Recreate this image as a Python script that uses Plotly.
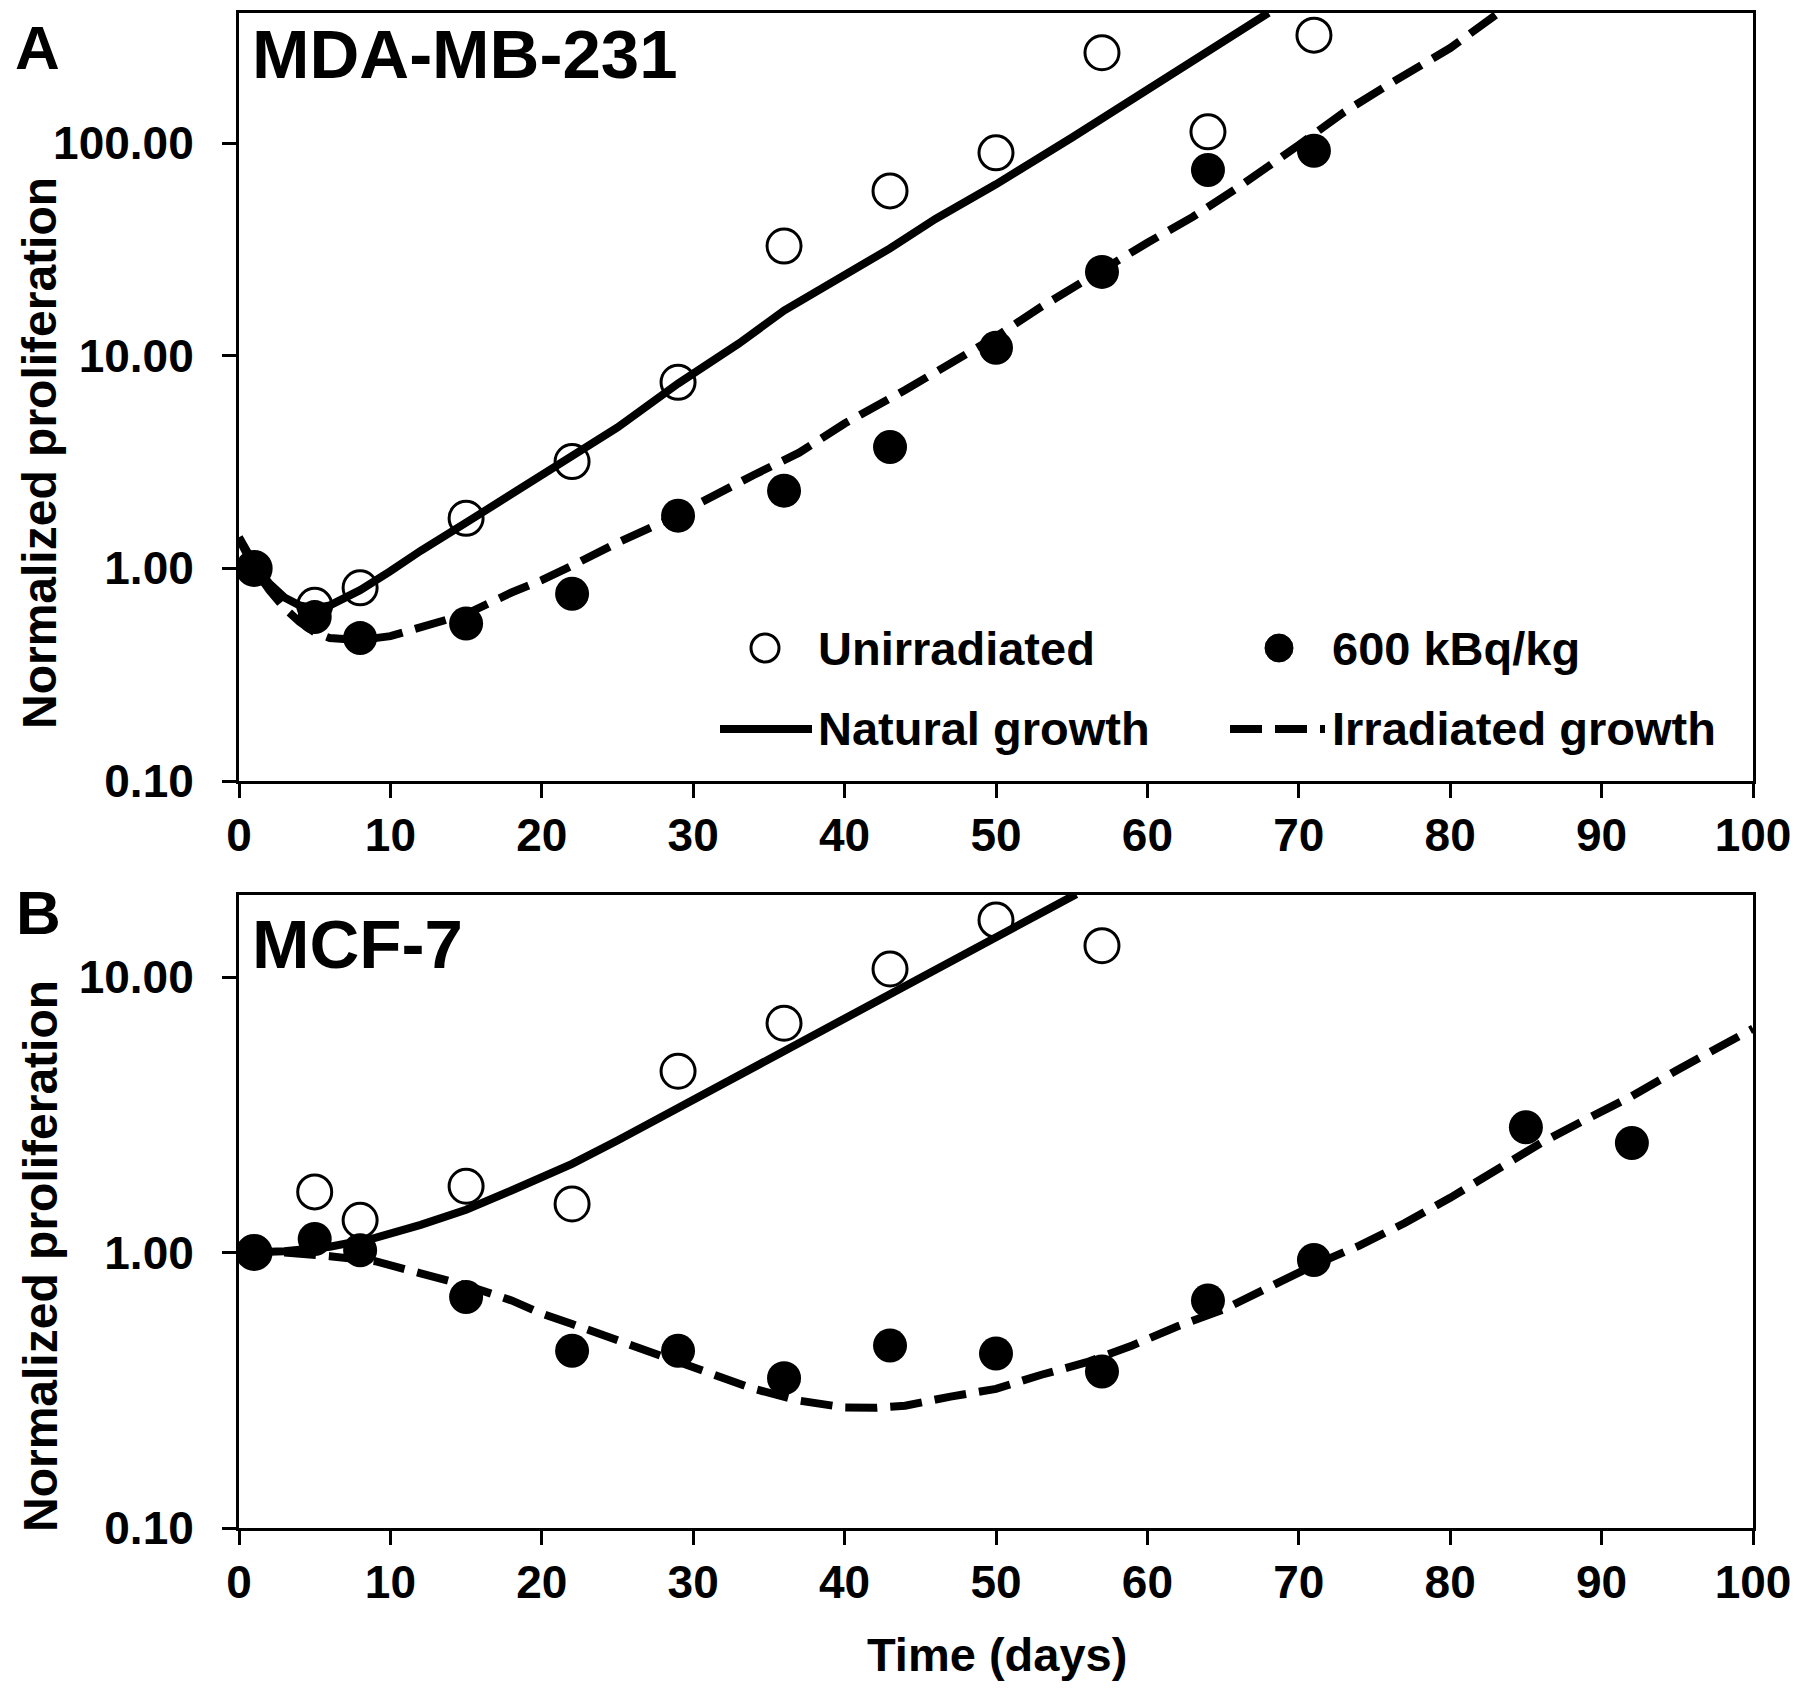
import plotly.graph_objects as go

# ---------------- data ----------------
# Panel A: MDA-MB-231
a_days_open = [1, 5, 8, 15, 22, 29, 36, 43, 50, 57, 64, 71]
a_unirr = [1.0, 0.67, 0.81, 1.72, 3.18, 7.5, 32.8, 59.6, 90, 266, 113, 322]
a_days_fill = [1, 5, 8, 15, 22, 29, 36, 43, 50, 57, 64, 71]
a_irr = [1.0, 0.59, 0.47, 0.55, 0.76, 1.77, 2.32, 3.72, 10.9, 24.8, 74.7, 92]

a_nat_t = [0, 1, 2, 3, 4, 5, 6, 7, 8, 10, 12, 15, 18, 20, 22, 25, 29, 33, 36, 40, 43, 46, 50, 55, 60, 65, 68]
a_nat_y = [1.40, 1.05, 0.85, 0.73, 0.67, 0.65, 0.67, 0.72, 0.79, 0.97, 1.21, 1.64, 2.25, 2.75, 3.39, 4.6,
           7.4, 11.4, 16.3, 24, 32, 44, 64, 106, 180, 300, 410]
a_irg_t = [0, 1, 2, 3, 4, 5, 6, 8, 10, 12, 15, 18, 20, 22, 25, 28, 31, 34, 37, 40, 44, 48, 50, 53, 56, 60,
           63, 66, 70, 73, 76, 80, 83]
a_irg_y = [1.38, 1.0, 0.79, 0.65, 0.56, 0.50, 0.47, 0.46, 0.48, 0.53, 0.61, 0.77, 0.88, 1.03, 1.32, 1.65,
           2.15, 2.75, 3.5, 4.8, 6.9, 10.0, 12.3, 17, 23, 34, 45, 62, 98, 140, 190, 280, 400]

# Panel B: MCF-7
b_days_open = [1, 5, 8, 15, 22, 29, 36, 43, 50, 57]
b_unirr = [1.0, 1.66, 1.31, 1.74, 1.50, 4.55, 6.8, 10.7, 16.1, 13.0]
b_days_fill = [1, 5, 8, 15, 22, 29, 36, 43, 50, 57, 64, 71, 85, 92]
b_irr = [1.0, 1.12, 1.02, 0.69, 0.44, 0.44, 0.35, 0.46, 0.43, 0.37, 0.67, 0.94, 2.85, 2.50]

b_nat_t = [0, 3, 6, 9, 12, 15, 18, 22, 25, 29, 32, 36, 40, 43, 46, 50, 53, 55.3]
b_nat_y = [1.0, 1.01, 1.05, 1.13, 1.26, 1.43, 1.68, 2.1, 2.55, 3.35, 4.1, 5.3, 7.0, 8.6, 10.6, 14.0, 17.0, 20.0]
b_irg_t = [0, 3, 6, 9, 12, 15, 18, 20, 22, 25, 28, 31, 34, 37, 40, 42, 44, 47, 50, 53, 56, 59, 62, 65,
           68, 71, 74, 77, 80, 83, 86, 89, 92, 95, 98, 100]
b_irg_y = [1.0, 1.0, 0.97, 0.93, 0.84, 0.76, 0.67, 0.60, 0.55, 0.48, 0.42, 0.37, 0.32, 0.29, 0.274, 0.273,
           0.278, 0.30, 0.32, 0.36, 0.40, 0.46, 0.54, 0.62, 0.75, 0.90, 1.06, 1.28, 1.58, 1.98, 2.5, 3.05,
           3.7, 4.6, 5.6, 6.5]

x_ticks = [0, 10, 20, 30, 40, 50, 60, 70, 80, 90, 100]
y_ticks = [0.1, 1, 10, 100]
y_ticktext = ["0.10", "1.00", "10.00", "100.00"]

legend_labels = ["Unirradiated", "600 kBq/kg", "Natural growth", "Irradiated growth"]

# ---------------- figure ----------------
W, H = 1800, 1688
FONT = "Liberation Sans, Arial, Helvetica, sans-serif"
DASH = "32px,13px"
LW = 8


def px(x):
    return x / W


def py(y):
    return 1 - y / H


fig = go.Figure()


def add_panel(xa, ya, nat_t, nat_y, irg_t, irg_y, d_open, v_open, d_fill, v_fill):
    fig.add_trace(go.Scatter(x=nat_t, y=nat_y, mode="lines", xaxis=xa, yaxis=ya,
                             line=dict(color="black", width=LW), showlegend=False))
    fig.add_trace(go.Scatter(x=irg_t, y=irg_y, mode="lines", xaxis=xa, yaxis=ya,
                             line=dict(color="black", width=LW, dash=DASH), showlegend=False))
    fig.add_trace(go.Scatter(x=d_open, y=v_open, mode="markers", xaxis=xa, yaxis=ya,
                             marker=dict(symbol="circle-open", size=34, color="black",
                                         line=dict(width=3, color="black")), showlegend=False))
    fig.add_trace(go.Scatter(x=d_fill, y=v_fill, mode="markers", xaxis=xa, yaxis=ya,
                             marker=dict(symbol="circle", size=34, color="black"), showlegend=False))


add_panel("x", "y", a_nat_t, a_nat_y, a_irg_t, a_irg_y, a_days_open, a_unirr, a_days_fill, a_irr)
add_panel("x2", "y2", b_nat_t, b_nat_y, b_irg_t, b_irg_y, b_days_open, b_unirr, b_days_fill, b_irr)

xdom = [px(239), px(1753)]
axis_common = dict(showline=True, linecolor="black", linewidth=3, mirror=True,
                   ticks="outside", ticklen=14, tickwidth=3, tickcolor="black",
                   showgrid=False, zeroline=False, automargin=False,
                   tickfont=dict(family=FONT, size=46, color="black", weight="bold"))

fig.update_layout(
    width=W, height=H,
    margin=dict(l=0, r=0, t=0, b=0, autoexpand=False),
    paper_bgcolor="white", plot_bgcolor="white",
    showlegend=False,
    xaxis=dict(domain=xdom, anchor="y", range=[0, 100], tickvals=x_ticks,
               ticklabelstandoff=-2, **axis_common),
    yaxis=dict(domain=[py(781), py(13)], anchor="x", type="log", range=[-1, 2.612],
               tickvals=y_ticks, ticktext=y_ticktext, ticklabelstandoff=19, **axis_common),
    xaxis2=dict(domain=xdom, anchor="y2", range=[0, 100], tickvals=x_ticks,
                ticklabelstandoff=-2, **axis_common),
    yaxis2=dict(domain=[py(1528), py(895)], anchor="x2", type="log", range=[-1, 1.298],
                tickvals=y_ticks[:3], ticktext=y_ticktext[:3], ticklabelstandoff=19, **axis_common),
)

ann = []


def text(x, y, s, size, xanchor="left", angle=0):
    ann.append(dict(x=px(x), y=py(y), xref="paper", yref="paper", text=s, showarrow=False,
                    xanchor=xanchor, yanchor="middle", textangle=angle,
                    font=dict(family=FONT, size=size, color="black", weight="bold")))


text(37, 47, "A", 62, "center")
text(38, 912, "B", 62, "center")
text(250, 55, "MDA-MB-231", 69)
text(250, 944, "MCF-7", 69)
text(40, 453, "Normalized proliferation", 48, "center", -90)
text(40, 1256, "Normalized proliferation", 48, "center", -90)
text(997, 1654, "Time (days)", 47, "center")

# legend (panel A)
text(816, 648, legend_labels[0], 47)
text(1330, 648, legend_labels[1], 47)
text(816, 728, legend_labels[2], 47)
text(1330, 728, legend_labels[3], 47)
fig.update_layout(annotations=ann)

r = 14
shapes = [
    dict(type="circle", xref="paper", yref="paper", x0=px(765 - r), x1=px(765 + r),
         y0=py(648 + r), y1=py(648 - r), line=dict(color="black", width=3), fillcolor="rgba(0,0,0,0)"),
    dict(type="circle", xref="paper", yref="paper", x0=px(1279 - r), x1=px(1279 + r),
         y0=py(648 + r), y1=py(648 - r), line=dict(color="black", width=1), fillcolor="black"),
    dict(type="line", xref="paper", yref="paper", x0=px(720), x1=px(812), y0=py(729), y1=py(729),
         line=dict(color="black", width=LW)),
    dict(type="line", xref="paper", yref="paper", x0=px(1230), x1=px(1325), y0=py(729), y1=py(729),
         line=dict(color="black", width=LW, dash=DASH)),
]
fig.update_layout(shapes=shapes)

fig.write_html("out.html", config={"displayModeBar": False},
               post_script="document.body.style.margin='0';")
